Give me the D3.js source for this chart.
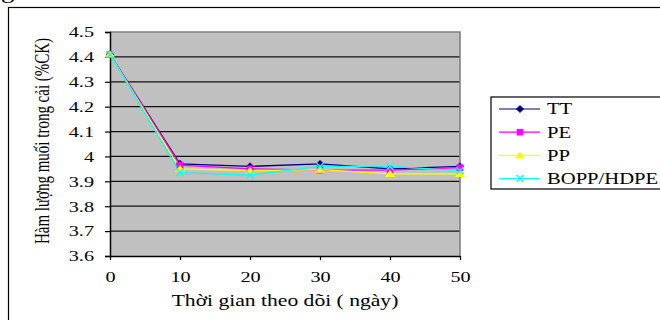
<!DOCTYPE html>
<html lang="vi">
<head>
    <meta charset="UTF-8">
    <title>Hàm lượng muối trong cải</title>
    <script src="https://d3js.org/d3.v7.min.js"></script>
    <style>
        body {
            margin: 0;
            padding: 0;
            background-color: #fff;
        }

        #chart {
            display: block;
        }

        text {
            font-family: "Liberation Serif", "Times New Roman", serif;
            fill: #000;
        }
    </style>
</head>
<body>
<svg id="chart"></svg>

<script>
    // Data
    const days = [0, 10, 20, 30, 40, 50];
    const seriesNames = ['TT', 'PE', 'PP', 'BOPP/HDPE'];
    const valuesTT = [4.41, 3.97, 3.96, 3.97, 3.95, 3.96];
    const valuesPE = [4.41, 3.965, 3.95, 3.945, 3.945, 3.955];
    const valuesPP = [4.41, 3.95, 3.943, 3.947, 3.93, 3.93];
    const valuesBOPP = [4.41, 3.935, 3.925, 3.96, 3.96, 3.943];
    const yTicks = [3.6, 3.7, 3.8, 3.9, 4, 4.1, 4.2, 4.3, 4.4, 4.5];
    const xTitle = 'Thời gian theo dõi ( ngày)';
    const yTitle = 'Hàm lượng muối trong cải (%CK)';

    const series = [
        { name: seriesNames[0], values: valuesTT, color: '#000080', symbol: 'diamond' },
        { name: seriesNames[1], values: valuesPE, color: '#ff00ff', symbol: 'square' },
        { name: seriesNames[2], values: valuesPP, color: '#ffff00', symbol: 'triangle' },
        { name: seriesNames[3], values: valuesBOPP, color: '#00ffff', symbol: 'cross' }
    ];

    // The source picture is stretched sideways, so is the text
    const sx = 1.35;

    const W = 660, H = 320;
    const plot = { left: 110, right: 460, top: 32, bottom: 256 };

    const svg = d3.select('#chart')
        .attr('width', W)
        .attr('height', H);

    // clipped caption fragment above the chart
    svg.append('text')
        .attr('transform', `translate(1,-2) scale(${sx},1)`)
        .style('font-size', '20px')
        .text('g');

    // outer chart frame (runs off the right and bottom)
    svg.append('rect')
        .attr('x', 8.5)
        .attr('y', 7.5)
        .attr('width', 700)
        .attr('height', 400)
        .attr('fill', 'none')
        .attr('stroke', '#000')
        .attr('stroke-width', 1.2);

    const x = d3.scaleLinear().domain([0, 50]).range([plot.left, plot.right]);
    const y = d3.scaleLinear().domain([3.6, 4.5]).range([plot.bottom, plot.top]);

    // plot area
    svg.append('rect')
        .attr('x', plot.left)
        .attr('y', plot.top)
        .attr('width', plot.right - plot.left)
        .attr('height', plot.bottom - plot.top)
        .attr('fill', '#c0c0c0');

    // gridlines
    svg.append('g')
        .selectAll('line')
        .data(yTicks.slice(1, -1))
        .join('line')
        .attr('x1', plot.left)
        .attr('x2', plot.right)
        .attr('y1', d => y(d))
        .attr('y2', d => y(d))
        .attr('stroke', '#111')
        .attr('stroke-width', 1.2);

    // grey top and right border of plot area
    svg.append('path')
        .attr('d', `M${plot.left},${y(4.5)}H${plot.right}V${plot.bottom}`)
        .attr('fill', 'none')
        .attr('stroke', '#808080')
        .attr('stroke-width', 1.6);

    // y axis
    const yAxis = svg.append('g')
        .attr('transform', `translate(${plot.left},0)`)
        .call(d3.axisLeft(y).tickValues(yTicks).tickSize(5).tickPadding(11)
            .tickFormat(d => d === 4 ? '4' : d3.format('.1f')(d)));
    yAxis.select('.domain').attr('stroke', '#000').attr('stroke-width', 1.5);
    yAxis.selectAll('.tick line').attr('stroke', '#000').attr('stroke-width', 1.2);
    yAxis.selectAll('.tick text')
        .style('font-size', '15px')
        .attr('x', -16 / sx)
        .attr('transform', `scale(${sx},1)`);

    // x axis
    const xAxis = svg.append('g')
        .attr('transform', `translate(0,${plot.bottom})`)
        .call(d3.axisBottom(x).tickValues(days).tickSize(4).tickPadding(11).tickSizeOuter(0));
    xAxis.select('.domain').attr('stroke', '#000').attr('stroke-width', 1.5);
    xAxis.selectAll('.tick line').attr('stroke', '#000').attr('stroke-width', 1.2);
    xAxis.selectAll('.tick text')
        .style('font-size', '15px')
        .attr('transform', `scale(${sx},1)`);

    // axis titles
    svg.append('text')
        .attr('transform', `translate(${(plot.left + plot.right) / 2},306) scale(${sx},1)`)
        .attr('text-anchor', 'middle')
        .style('font-size', '16px')
        .text(xTitle);

    svg.append('text')
        .attr('transform', `translate(49,141) scale(${sx},1) rotate(-90)`)
        .attr('text-anchor', 'middle')
        .style('font-size', '15px')
        .text(yTitle);

    // markers
    function drawMarker(g, kind, color) {
        if (kind === 'cross') {
            g.append('path')
                .attr('d', d3.symbol(d3.symbolTimes, 34)())
                .attr('fill', 'none')
                .attr('stroke', color)
                .attr('stroke-width', 1.4);
        } else if (kind === 'diamond') {
            g.append('path')
                .attr('d', 'M0,-3.6L3.8,0L0,3.6L-3.8,0Z')
                .attr('fill', color)
                .attr('stroke', color)
                .attr('stroke-width', 0.6);
        } else if (kind === 'square') {
            g.append('path')
                .attr('d', d3.symbol(d3.symbolSquare, 44)())
                .attr('fill', color);
        } else {
            g.append('path')
                .attr('d', 'M0,-4L5,3.2L-5,3.2Z')
                .attr('fill', color);
        }
    }

    const line = d3.line()
        .x((d, i) => x(days[i]))
        .y(d => y(d));

    series.forEach(s => {
        svg.append('path')
            .datum(s.values)
            .attr('d', line)
            .attr('fill', 'none')
            .attr('stroke', s.color)
            .attr('stroke-width', 1.3);
    });

    series.forEach(s => {
        s.values.forEach((v, i) => {
            const g = svg.append('g')
                .attr('transform', `translate(${x(days[i])},${y(v)})`);
            drawMarker(g, s.symbol, s.color);
        });
    });

    // legend
    const legend = svg.append('g').attr('transform', 'translate(491,97)');
    legend.append('rect')
        .attr('x', 0)
        .attr('y', 0)
        .attr('width', 200)
        .attr('height', 92)
        .attr('fill', '#fff')
        .attr('stroke', '#000')
        .attr('stroke-width', 1.2);

    series.forEach((s, i) => {
        const row = legend.append('g')
            .attr('transform', `translate(0,${12 + i * 23.2})`);
        row.append('line')
            .attr('x1', 8)
            .attr('x2', 49)
            .attr('stroke', s.color)
            .attr('stroke-width', 1.2);
        drawMarker(row.append('g').attr('transform', 'translate(29,0)'), s.symbol, s.color);
        row.append('text')
            .attr('transform', `translate(56,5.3) scale(1.29,1)`)
            .style('font-size', '16px')
            .text(s.name);
    });
</script>
</body>
</html>
